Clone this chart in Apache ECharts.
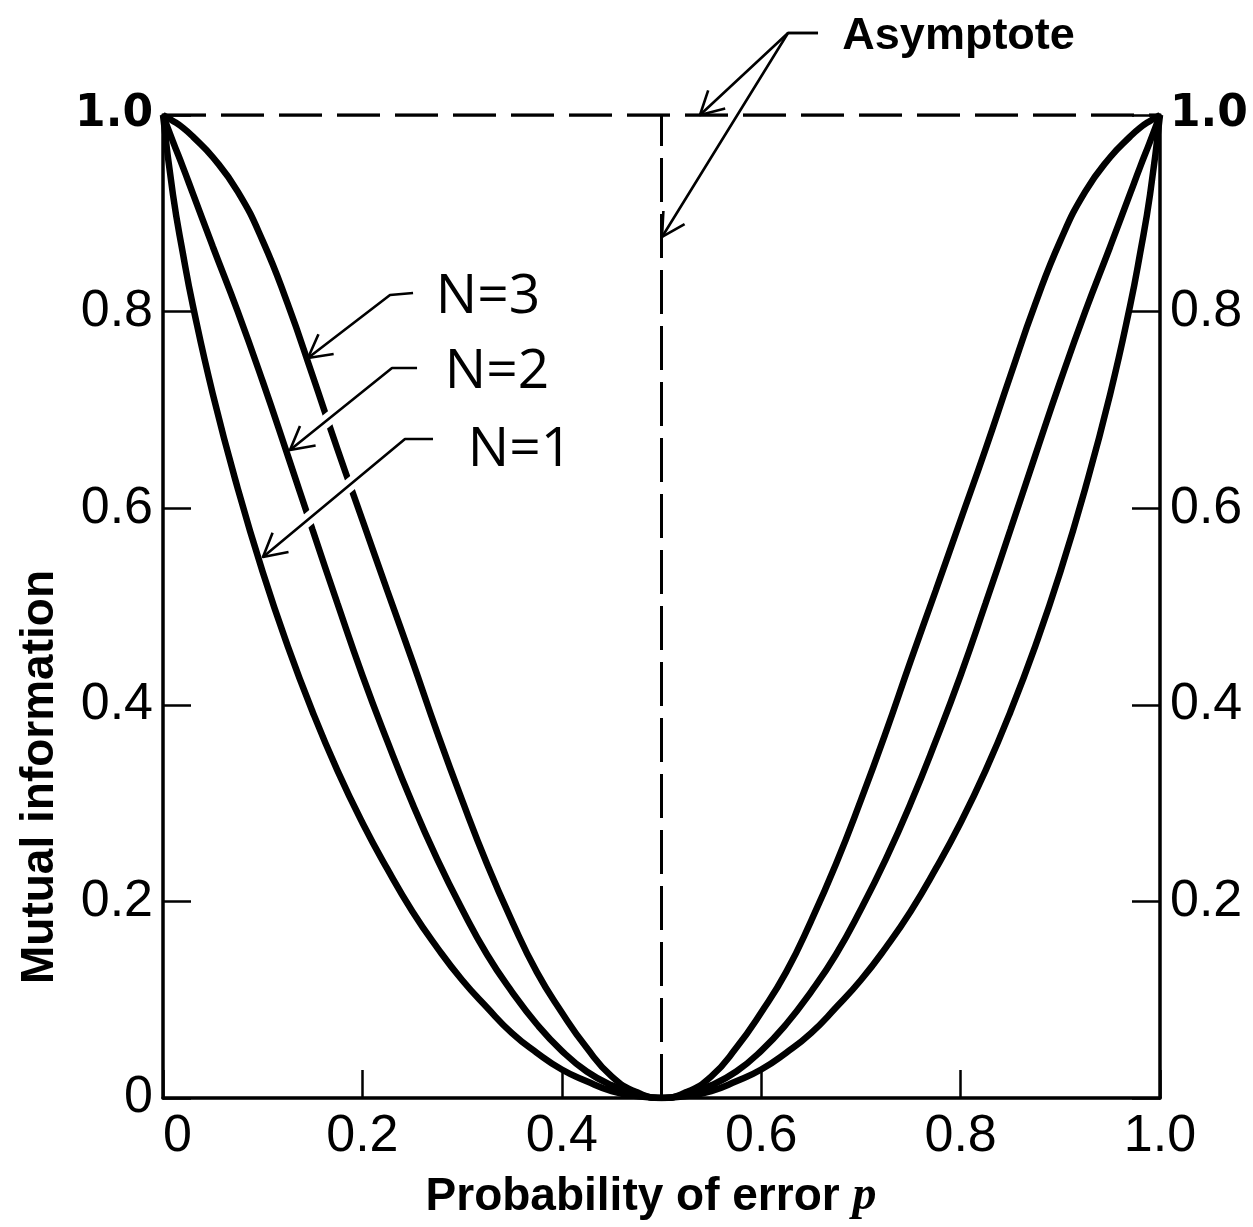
<!DOCTYPE html>
<html><head><meta charset="utf-8">
<script src="https://cdn.jsdelivr.net/npm/echarts@6/dist/echarts.min.js"></script>
<style>html,body{margin:0;padding:0;background:#fff}#c{width:1253px;height:1227px}</style>
</head><body><div id="c"></div>
<script>
// ---- data ----
const pValues = [0, 0.01, 0.02, 0.03, 0.05, 0.075, 0.1, 0.125, 0.15, 0.175, 0.2, 0.225, 0.25, 0.275, 0.3, 0.325, 0.35, 0.375, 0.4, 0.425, 0.45, 0.475, 0.5,
                 0.525, 0.55, 0.575, 0.6, 0.625, 0.65, 0.675, 0.7, 0.725, 0.75, 0.775, 0.8, 0.825, 0.85, 0.875, 0.9, 0.925, 0.95, 0.97, 0.98, 0.99, 1.0];
const infoN1 = [1.0, 0.919, 0.859, 0.806, 0.716, 0.62, 0.535, 0.46, 0.393, 0.333, 0.28, 0.233, 0.19, 0.153, 0.12, 0.092, 0.066, 0.046, 0.029, 0.017, 0.007, 0.002, 0,
                0.002, 0.007, 0.017, 0.029, 0.046, 0.066, 0.092, 0.12, 0.153, 0.19, 0.233, 0.28, 0.333, 0.393, 0.46, 0.535, 0.62, 0.716, 0.806, 0.859, 0.919, 1.0];
const infoN2 = [1.0, 0.973, 0.947, 0.92, 0.866, 0.80, 0.729, 0.654, 0.578, 0.503, 0.43, 0.363, 0.30, 0.243, 0.192, 0.146, 0.108, 0.075, 0.048, 0.027, 0.013, 0.004, 0,
                0.004, 0.013, 0.027, 0.048, 0.075, 0.108, 0.146, 0.192, 0.243, 0.30, 0.363, 0.43, 0.503, 0.578, 0.654, 0.729, 0.80, 0.866, 0.92, 0.947, 0.973, 1.0];
const infoN3 = [1.0, 0.994, 0.987, 0.978, 0.957, 0.922, 0.872, 0.808, 0.735, 0.66, 0.588, 0.516, 0.445, 0.372, 0.303, 0.238, 0.18, 0.128, 0.087, 0.051, 0.022, 0.006, 0,
                0.006, 0.022, 0.051, 0.087, 0.128, 0.18, 0.238, 0.303, 0.372, 0.445, 0.516, 0.588, 0.66, 0.735, 0.808, 0.872, 0.922, 0.957, 0.978, 0.987, 0.994, 1.0];
const curveNames = ['N=1', 'N=2', 'N=3'];
const asymptoteLevel = 1.0;
const asymptoteP = 0.5;
const tickLabels = ['0', '0.2', '0.4', '0.6', '0.8', '1.0'];
const xTitle = 'Probability of error ';
const xTitleVar = 'p';
const yTitle = 'Mutual information';
const asymptoteText = 'Asymptote';

// ---- chart ----
const chart = echarts.init(document.getElementById('c'), null, {renderer: 'canvas'});
const toPairs = arr => pValues.map((p, i) => [p, arr[i]]);
const labelFor = v => tickLabels[Math.round(v * 5)];
const axisCommon = {
  type: 'value', min: 0, max: 1, interval: 0.2,
  axisLine: {show: true, lineStyle: {color: '#000', width: 3.5}},
  axisTick: {show: true, inside: true, length: 28, lineStyle: {color: '#000', width: 2.5}},
  splitLine: {show: false},
  axisLabel: {color: '#000', fontSize: 52, fontFamily: 'Liberation Sans', margin: 10,
    rich: {top: {fontFamily: 'DejaVu Sans', fontWeight: 'bold', fontSize: 44, color: '#000'}}}
};

const curveStyle = {color: '#000', width: 6.5};
const option = {
  backgroundColor: '#fff',
  animation: false,
  grid: {left: 163, right: 93, top: 115, bottom: 129},
  xAxis: Object.assign({}, axisCommon, {
    axisLabel: Object.assign({}, axisCommon.axisLabel, {margin: 13, alignMinLabel: 'left', formatter: v => labelFor(v)})
  }),
  yAxis: [
    Object.assign({}, axisCommon, {position: 'left',
      axisLabel: Object.assign({}, axisCommon.axisLabel, {formatter: v => v === 1 ? '{top|1.0}' : labelFor(v)})}),
    Object.assign({}, axisCommon, {position: 'right',
      axisLabel: Object.assign({}, axisCommon.axisLabel, {formatter: v => v === 0 ? '' : (v === 1 ? '{top|1.0}' : labelFor(v))})})
  ],
  series: [
    {name: curveNames[0], type: 'line', data: toPairs(infoN1), smooth: 0.5, symbol: 'none', lineStyle: curveStyle, z: 3},
    {name: curveNames[1], type: 'line', data: toPairs(infoN2), smooth: 0.5, symbol: 'none', lineStyle: curveStyle, z: 3},
    {name: curveNames[2], type: 'line', data: toPairs(infoN3), smooth: 0.5, symbol: 'none', lineStyle: curveStyle, z: 3},
    {name: 'asymptote-h', type: 'line', data: [[0, asymptoteLevel], [1, asymptoteLevel]], symbol: 'none',
      lineStyle: {color: '#000', width: 3.5, type: [43, 15]}, z: 2},
    {name: 'asymptote-v', type: 'line', data: [[asymptoteP, 0], [asymptoteP, asymptoteLevel]], symbol: 'none',
      lineStyle: {color: '#000', width: 3, type: [44, 12]}, z: 2}
  ]
};
chart.setOption(option);

// ---- annotations (anchored in data coordinates) ----
const P = (p, v) => chart.convertToPixel({gridIndex: 0}, [p, v]);
function arrowHead(tip, from, len, ang) {
  const dx = tip[0] - from[0], dy = tip[1] - from[1];
  const L = Math.hypot(dx, dy), ux = dx / L, uy = dy / L;
  const w = s => {
    const c = Math.cos(s * ang), sn = Math.sin(s * ang);
    const rx = ux * c - uy * sn, ry = ux * sn + uy * c;
    return [tip[0] - rx * len, tip[1] - ry * len];
  };
  return [w(1), tip, w(-1)];
}
const g = [];
const lineStyle = {stroke: '#000', lineWidth: 2.6, fill: null, lineJoin: 'round'};
function leader(start, corner, tip, gaps) {
  const s = P(...start), c = P(...corner), t = P(...tip);
  if (gaps) {
    const a = [c[0] + (t[0] - c[0]) * gaps[0], c[1] + (t[1] - c[1]) * gaps[0]];
    const b = [c[0] + (t[0] - c[0]) * gaps[1], c[1] + (t[1] - c[1]) * gaps[1]];
    g.push({type: 'polyline', z: 10, shape: {points: [a, b]}, style: {stroke: '#fff', lineWidth: 13, fill: null}});
  }
  g.push({type: 'polyline', z: 11, shape: {points: [s, c, t]}, style: lineStyle});
  g.push({type: 'polyline', z: 11, shape: {points: arrowHead(t, c, 26, 0.5)}, style: lineStyle});
}
// N=3, N=2, N=1 leaders
leader([0.2508, 0.8189], [0.2277, 0.8169], [0.1454, 0.7528]);
leader([0.2548, 0.7426], [0.2297, 0.7426], [0.1274, 0.6592], [0.4, 0.85]);
leader([0.2708, 0.6704], [0.2427, 0.6704], [0.1003, 0.5504], [0.25, 0.8]);
// Asymptote leaders
leader([0.657, 1.0834], [0.6269, 1.0834], [0.5386, 1.0]);
leader([0.657, 1.0834], [0.6269, 1.0834], [0.5005, 0.8759]);

const txt = (pos, text, font, extra) => Object.assign({type: 'text', x: pos[0], y: pos[1], z: 12,
  style: {text, font, fill: '#000', textAlign: 'center', textVerticalAlign: 'middle'}}, extra || {});
g.push(txt(P(0.326, 0.815), curveNames[2], '55px "Open Sans"'));
g.push(txt(P(0.335, 0.7386), curveNames[1], '55px "Open Sans"'));
g.push(txt(P(0.358, 0.659), curveNames[0], '55px "Open Sans"'));
g.push(txt(P(0.798, 1.080), asymptoteText, 'bold 45px "Liberation Sans"'));
g.push(txt([40, 777], yTitle, 'bold 46px "Liberation Sans"', {rotation: Math.PI / 2}));
g.push({type: 'text', x: 651, y: 1197, z: 12, style: {
  text: '{a|' + xTitle + '}{b|' + xTitleVar + '}', textAlign: 'center', textVerticalAlign: 'middle', fill: '#000',
  rich: {a: {font: 'bold 46px "Liberation Sans"', fill: '#000'},
         b: {font: 'italic bold 48px "Liberation Serif"', fill: '#000'}}}});
chart.setOption({graphic: g});
</script>
</body></html>
